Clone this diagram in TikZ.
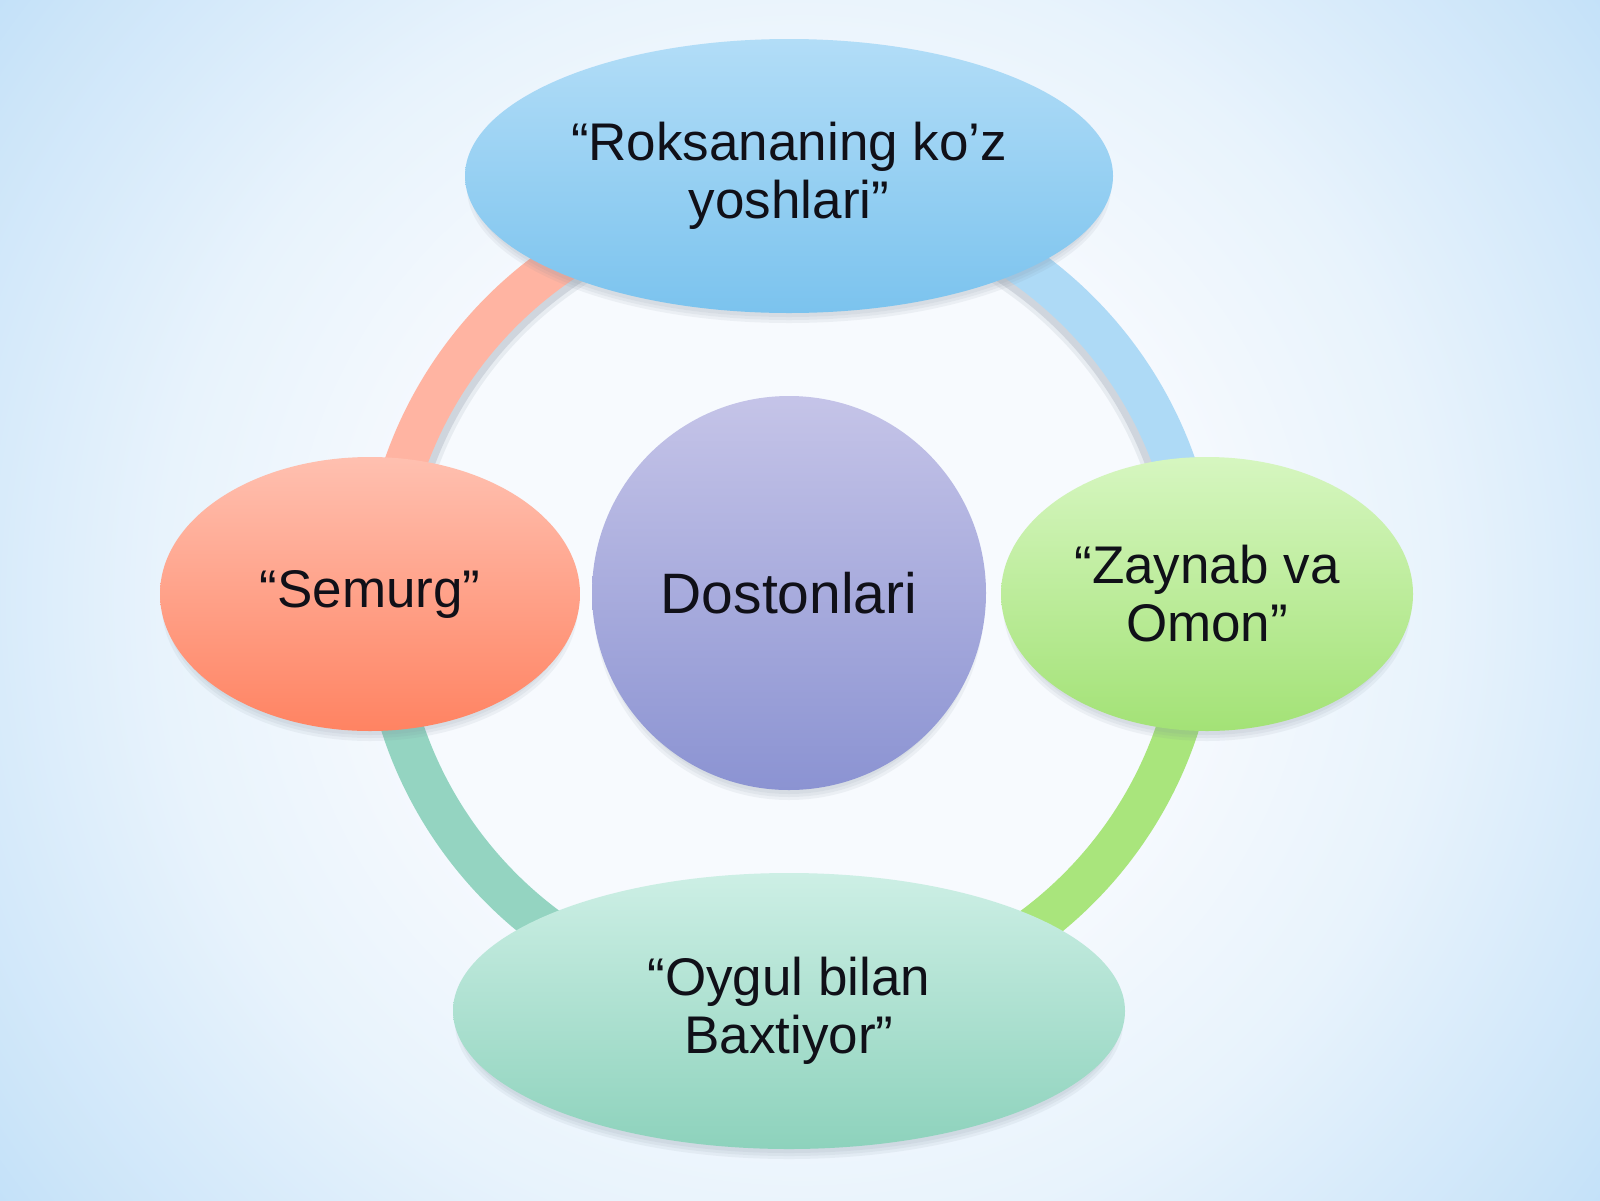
\documentclass[tikz,border=0pt]{standalone}
\usepackage{fontspec}
\setmainfont{Liberation Sans}
\usetikzlibrary{shapes.geometric,calc}
\definecolor{bgc}{HTML}{F7FAFE}
\definecolor{bgm}{HTML}{E8F3FC}
\definecolor{bge}{HTML}{CCE5F9}
\definecolor{bgk}{HTML}{ABD6F8}
\definecolor{bgz}{HTML}{A2D1F7}
\definecolor{ringsalmon}{HTML}{FFB4A2}
\definecolor{ringblue}{HTML}{AEDAF6}
\definecolor{ringgreen}{HTML}{A9E57C}
\definecolor{ringteal}{HTML}{94D4C1}
\definecolor{shadowgray}{HTML}{7A8898}
\definecolor{txt}{HTML}{101018}
\definecolor{topA}{HTML}{B2DDF7}
\definecolor{topB}{HTML}{7BC3EE}
\definecolor{leftA}{HTML}{FFC0B0}
\definecolor{leftB}{HTML}{FF8362}
\definecolor{midA}{HTML}{C5C4E8}
\definecolor{midB}{HTML}{8B93D2}
\definecolor{rightA}{HTML}{D6F6C0}
\definecolor{rightB}{HTML}{A3E276}
\definecolor{botA}{HTML}{CDEFE5}
\definecolor{botB}{HTML}{8DD2BC}
\pgfdeclareradialshading{bgshade}{\pgfpoint{0bp}{0bp}}{color(0bp)=(bgc); color(12bp)=(bgc); color(20bp)=(bgm); color(29bp)=(bge); color(38bp)=(bgk); color(71bp)=(bgz)}
\begin{document}
\begin{tikzpicture}[x=1pt,y=-1pt,
  ring/.style={line width=42pt},
  ringshadow/.style={line width=40pt, draw=shadowgray, opacity=0.22},
  bubble/.style={ellipse, inner sep=0pt, align=center, text=txt, font=\fontsize{53}{58}\selectfont},
  nshadow/.style={fill=shadowgray, opacity=0.09}]
\useasboundingbox (0,0) rectangle (1600,1200);
\begin{scope}
  \clip (0,0) rectangle (1600,1200);
  \shade[shading=bgshade] (0,-200) rectangle (1600,1400);
\end{scope}
\coordinate (ringc) at (790,600);
% ring shadow (inner side of upper arcs)
\draw[ringshadow] ($(ringc)+(195:400)$) arc[start angle=195, end angle=345, radius=400];
\draw[ringshadow, opacity=0.12, line width=44pt] ($(ringc)+(195:398)$) arc[start angle=195, end angle=345, radius=398];
% ring arcs
\draw[ring, draw=ringsalmon] ($(ringc)+(180:408)$) arc[start angle=180, end angle=270, radius=408];
\draw[ring, draw=ringblue] ($(ringc)+(270:408)$) arc[start angle=270, end angle=360, radius=408];
\draw[ring, draw=ringgreen] ($(ringc)+(0:408)$) arc[start angle=0, end angle=90, radius=408];
\draw[ring, draw=ringteal] ($(ringc)+(90:408)$) arc[start angle=90, end angle=180, radius=408];
% node shadows
\foreach \x/\y/\rx/\ry in {789/176/324/137, 370/594/210/137, 789/593/197/197, 1207/594/206/137, 789/1011/336/138}{
  \foreach \k in {0,3,6}{
    \fill[nshadow] (\x,\y+12) ellipse [x radius=\rx+\k-8, y radius=\ry+\k-8];
  }
}
% nodes
\node[bubble, minimum width=648pt, minimum height=274pt, top color=topA, bottom color=topB] (rok) at (789,176) {“Roksananing ko’z\\yoshlari”};
\node[bubble, minimum width=420pt, minimum height=274pt, top color=leftA, bottom color=leftB] (sem) at (370,594) {“Semurg”};
\node[bubble, circle, minimum size=394pt, font=\fontsize{57}{62}\selectfont, top color=midA, bottom color=midB] (dost) at (789,593) {Dostonlari};
\node[bubble, minimum width=412pt, minimum height=274pt, top color=rightA, bottom color=rightB] (zay) at (1207,594) {“Zaynab va\\Omon”};
\node[bubble, minimum width=672pt, minimum height=276pt, top color=botA, bottom color=botB] (oyg) at (789,1011) {“Oygul bilan\\Baxtiyor”};
\end{tikzpicture}
\end{document}
